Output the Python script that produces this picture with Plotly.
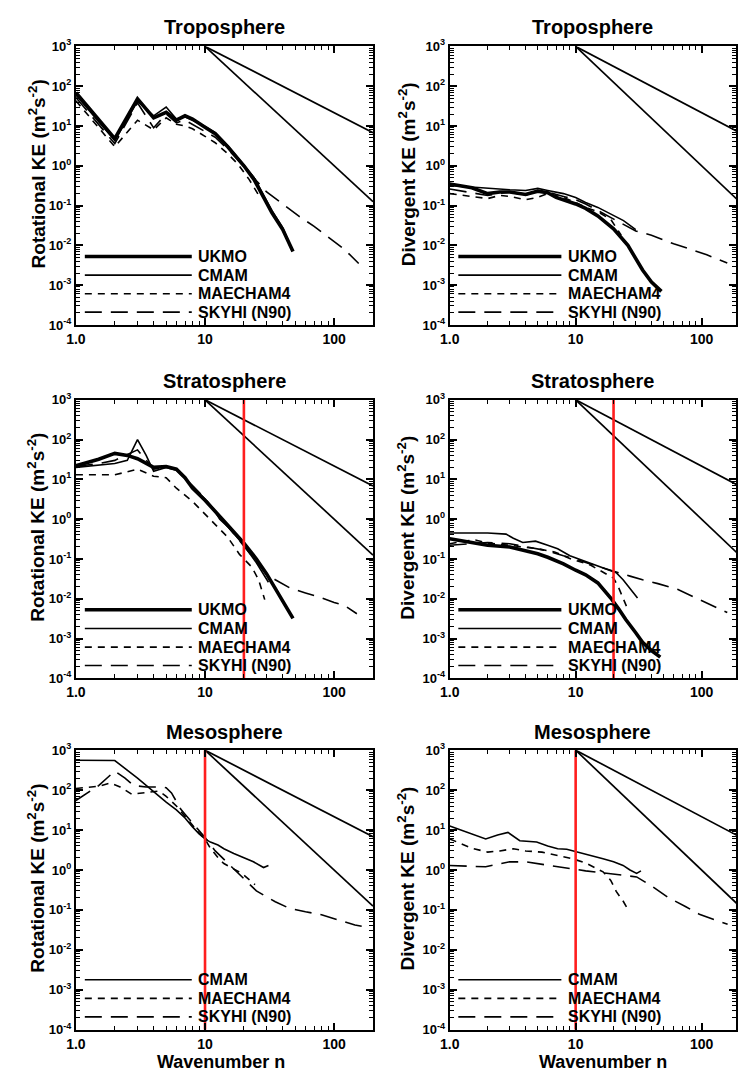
import plotly.graph_objects as go
import math

# ---------------- DATA ----------------
# Troposphere, rotational KE
tr_rot_ukmo_n = [1, 2, 3, 4, 5, 6, 7, 8, 10, 12, 15, 20, 24, 28, 33, 40, 48]
tr_rot_ukmo = [69, 4.8, 48, 16, 22, 14, 18, 15, 9.3, 6.4, 3.0, 1.0, 0.45, 0.18, 0.066, 0.025, 0.007]
tr_rot_cmam_n = [1, 2, 3, 4, 5, 6, 7, 8, 10, 12, 15, 20, 24, 28, 33, 40, 47]
tr_rot_cmam = [60, 4.3, 42, 18, 30, 15, 17, 14, 9.8, 6.8, 3.2, 1.05, 0.5, 0.2, 0.075, 0.028, 0.008]
tr_rot_mae_n = [1, 2, 3, 4, 5, 6, 7, 8, 10, 12, 15, 18, 22, 27]
tr_rot_mae = [43, 3.0, 14, 8, 16, 11, 10, 8.5, 5.5, 3.8, 2.0, 1.1, 0.45, 0.15]
tr_rot_sky_n = [1, 2, 3, 4, 5, 6, 7, 8, 10, 12, 15, 20, 25, 30, 40, 53, 70, 90, 120, 155]
tr_rot_sky = [52, 3.6, 38, 9, 20, 12, 14, 11, 7.5, 5.2, 2.6, 1.0, 0.42, 0.22, 0.11, 0.055, 0.03, 0.016, 0.008, 0.0035]

# Troposphere, divergent KE
tr_div_ukmo_n = [1, 1.5, 2, 2.5, 3, 4, 5, 6, 7, 8, 10, 12, 15, 20, 26, 34, 40, 48]
tr_div_ukmo = [0.35, 0.28, 0.2, 0.22, 0.22, 0.19, 0.23, 0.21, 0.16, 0.14, 0.11, 0.085, 0.055, 0.026, 0.01, 0.0024, 0.0012, 0.0007]
tr_div_cmam_n = [1, 2, 3, 4, 5, 6, 8, 10, 12, 15, 20, 24, 30]
tr_div_cmam = [0.32, 0.27, 0.25, 0.24, 0.27, 0.24, 0.2, 0.16, 0.12, 0.09, 0.055, 0.042, 0.025]
tr_div_mae_n = [1, 1.5, 2, 2.5, 3, 4, 5, 6, 8, 10, 12, 15, 19, 23]
tr_div_mae = [0.2, 0.17, 0.15, 0.18, 0.17, 0.14, 0.16, 0.2, 0.16, 0.12, 0.09, 0.07, 0.045, 0.018]
tr_div_sky_n = [1, 2, 3, 4, 5, 6, 8, 10, 12, 15, 20, 25, 30, 40, 60, 80, 110, 160]
tr_div_sky = [0.26, 0.18, 0.22, 0.18, 0.24, 0.22, 0.17, 0.14, 0.11, 0.075, 0.045, 0.03, 0.023, 0.018, 0.011, 0.0082, 0.0058, 0.0036]

# Stratosphere, rotational KE
st_rot_ukmo_n = [1, 1.5, 2, 2.5, 3, 4, 5, 6, 7, 8, 10, 12, 15, 20, 25, 30, 38, 48]
st_rot_ukmo = [22, 32, 45, 40, 33, 20, 21, 18, 11, 6, 3, 1.6, 0.7, 0.25, 0.1, 0.042, 0.011, 0.0032]
st_rot_cmam_n = [1, 2, 2.5, 3, 3.5, 4, 5, 6, 8, 10, 12, 13, 15, 20, 25, 31]
st_rot_cmam = [20, 25, 30, 100, 40, 16, 20, 18, 6.5, 3.2, 1.5, 1.0, 0.65, 0.22, 0.08, 0.026]
st_rot_mae_n = [1, 1.5, 2, 3, 4, 5, 6, 8, 9, 10, 12, 15, 18.5, 23, 26, 29]
st_rot_mae = [13, 13, 13, 18, 12, 11, 6, 2.8, 1.9, 1.4, 0.75, 0.35, 0.13, 0.063, 0.03, 0.0095]
st_rot_sky_n = [1, 1.5, 2, 3, 4, 5, 6, 8, 10, 12, 15, 20, 25, 30, 35, 45, 60, 80, 100, 120, 150]
st_rot_sky = [21, 25, 30, 55, 18, 20, 17, 7, 3.3, 1.6, 0.62, 0.2, 0.085, 0.042, 0.03, 0.019, 0.014, 0.0105, 0.008, 0.0068, 0.0042]

# Stratosphere, divergent KE
st_div_ukmo_n = [1, 2, 3, 4, 5, 6, 8, 10, 12, 15, 19, 22, 25, 30, 34, 40, 47]
st_div_ukmo = [0.32, 0.22, 0.2, 0.16, 0.135, 0.11, 0.075, 0.052, 0.04, 0.025, 0.0104, 0.0055, 0.003, 0.0014, 0.0008, 0.0005, 0.00034]
st_div_cmam_n = [1, 2, 2.8, 3.2, 3.8, 4.8, 6, 7.2, 9, 12.4, 15, 18.8, 21, 23.8, 27, 31]
st_div_cmam = [0.45, 0.45, 0.42, 0.33, 0.26, 0.28, 0.22, 0.18, 0.12, 0.083, 0.065, 0.052, 0.045, 0.03, 0.018, 0.0104]
st_div_mae_n = [1, 1.3, 1.6, 2, 3, 4, 5, 6.8, 9.2, 13.1, 18.2, 20, 21.8, 23.5, 25.3]
st_div_mae = [0.24, 0.28, 0.3, 0.25, 0.22, 0.2, 0.18, 0.15, 0.1, 0.07, 0.04, 0.033, 0.02, 0.011, 0.0065]
st_div_sky_n = [1, 1.5, 2, 3, 4, 5, 6, 8, 10, 12.7, 15, 18.8, 22, 27, 34, 45, 65, 100, 141, 160]
st_div_sky = [0.22, 0.24, 0.26, 0.24, 0.2, 0.18, 0.16, 0.12, 0.1, 0.077, 0.065, 0.052, 0.045, 0.037, 0.03, 0.024, 0.017, 0.009, 0.0054, 0.0045]

# Mesosphere, rotational KE
me_rot_cmam_n = [1, 2, 3, 4, 5, 6, 7, 8, 9, 10, 11, 12.6, 14, 16.7, 20, 23.7, 28.4, 31]
me_rot_cmam = [560, 550, 200, 90, 50, 32, 20, 12, 8, 6, 5, 4.2, 3.4, 2.6, 2.0, 1.6, 1.15, 1.3]
me_rot_mae_n = [1, 1.5, 1.84, 2.2, 2.7, 3.5, 4.4, 5, 6, 7, 8, 9, 10, 11, 13, 14, 19.4, 24.4]
me_rot_mae = [110, 125, 150, 120, 79, 86, 95, 70, 40, 22, 13, 8.5, 6, 3.5, 1.8, 1.45, 0.81, 0.43]
me_rot_sky_n = [1, 1.5, 2, 2.4, 2.8, 3.5, 4.5, 5, 5.5, 6.5, 7, 8, 10, 12, 15, 20, 25, 35, 45, 60, 81, 110, 145, 170]
me_rot_sky = [55, 130, 300, 200, 130, 120, 120, 115, 85, 33, 25, 15, 6.5, 3, 1.5, 0.6, 0.3, 0.16, 0.11, 0.09, 0.075, 0.055, 0.042, 0.038]

# Mesosphere, divergent KE
me_div_cmam_n = [1, 1.5, 1.93, 2.4, 2.9, 3.6, 4.9, 6, 7.2, 8.5, 10.5, 13, 16.5, 20, 23.8, 27, 30.5, 33]
me_div_cmam = [12.6, 8, 6, 7.5, 8.7, 5.4, 5, 4, 3.4, 3.3, 2.8, 2.3, 1.9, 1.6, 1.3, 1.0, 0.82, 0.95]
me_div_mae_n = [1, 1.5, 2, 2.5, 3.2, 4, 5.4, 7, 9.5, 12, 16.5, 19, 21, 24, 26.5]
me_div_mae = [6, 3.5, 2.8, 3.0, 3.4, 3.0, 2.8, 2.3, 1.9, 1.5, 0.9, 0.55, 0.29, 0.16, 0.093]
me_div_sky_n = [1, 1.5, 1.93, 2.4, 3, 4, 4.9, 6, 8.9, 12, 16.5, 22, 30.5, 40, 55, 75, 96, 130, 161]
me_div_sky = [1.3, 1.25, 1.2, 1.4, 1.6, 1.6, 1.45, 1.3, 1.1, 0.95, 0.85, 0.75, 0.67, 0.4, 0.2, 0.12, 0.078, 0.055, 0.044]

# Reference slopes (n^-5/3 and n^-3) starting at n=10
ref_n = [10, 200]
ref_53 = [1000, 6.8]
ref_3 = [1000, 0.125]

# Truncation markers (red vertical lines)
red_line_n = [None, 20, 10]  # per row
y_limits = [1e-4, 1e3]

row_titles = ["Troposphere", "Stratosphere", "Mesosphere"]
col_ylabels = ["Rotational KE (m<sup>2</sup>s<sup>-2</sup>)", "Divergent KE (m<sup>2</sup>s<sup>-2</sup>)"]
y_tick_vals = [1e-4, 1e-3, 1e-2, 1e-1, 1e0, 1e1, 1e2, 1e3]
y_tick_text = ["10<sup>-4</sup>", "10<sup>-3</sup>", "10<sup>-2</sup>", "10<sup>-1</sup>",
               "10<sup>0</sup>", "10<sup>1</sup>", "10<sup>2</sup>", "10<sup>3</sup>"]
x_tick_vals = [1, 10, 100]
x_tick_text = ["1.0", "10", "100"]
x_title = "Wavenumber n"

names = ["UKMO", "CMAM", "MAECHAM4", "SKYHI (N90)"]
panels = [
    [  # row 1
        [(tr_rot_ukmo_n, tr_rot_ukmo), (tr_rot_cmam_n, tr_rot_cmam), (tr_rot_mae_n, tr_rot_mae), (tr_rot_sky_n, tr_rot_sky)],
        [(tr_div_ukmo_n, tr_div_ukmo), (tr_div_cmam_n, tr_div_cmam), (tr_div_mae_n, tr_div_mae), (tr_div_sky_n, tr_div_sky)],
    ],
    [
        [(st_rot_ukmo_n, st_rot_ukmo), (st_rot_cmam_n, st_rot_cmam), (st_rot_mae_n, st_rot_mae), (st_rot_sky_n, st_rot_sky)],
        [(st_div_ukmo_n, st_div_ukmo), (st_div_cmam_n, st_div_cmam), (st_div_mae_n, st_div_mae), (st_div_sky_n, st_div_sky)],
    ],
    [
        [None, (me_rot_cmam_n, me_rot_cmam), (me_rot_mae_n, me_rot_mae), (me_rot_sky_n, me_rot_sky)],
        [None, (me_div_cmam_n, me_div_cmam), (me_div_mae_n, me_div_mae), (me_div_sky_n, me_div_sky)],
    ],
]

# ---------------- STYLE / LAYOUT ----------------
W, H = 738, 1083
FONT = "Liberation Sans"
col_px = [(67, 369), (447, 738)]
col_decade = [None, 128.0]
row_px = [(38, 321), (397, 680), (753, 1037)]
title_y_px = [18, 378, 735]

styles = [
    dict(width=3.6, dash="solid"),
    dict(width=1.6, dash="solid"),
    dict(width=1.6, dash="7px,6px"),
    dict(width=1.6, dash="17px,9px"),
]

minor_x = [k * 10 ** e for e in range(0, 3) for k in range(2, 10) if k * 10 ** e <= 200]
minor_y = [k * 10.0 ** e for e in range(-4, 3) for k in range(2, 10)]

fig = go.Figure()
layout = dict(width=W, height=H, margin=dict(l=0, r=0, t=0, b=0),
              paper_bgcolor="white", plot_bgcolor="white", showlegend=False,
              font=dict(family=FONT, color="black"))
annotations = []
shapes = []

idx = 0
for r in range(3):
    for c in range(2):
        idx += 1
        xa = "x" if idx == 1 else f"x{idx}"
        ya = "y" if idx == 1 else f"y{idx}"
        xkey = "xaxis" if idx == 1 else f"xaxis{idx}"
        ykey = "yaxis" if idx == 1 else f"yaxis{idx}"
        x0p, x1p = col_px[c]
        y0p, y1p = row_px[r]
        if c == 0:
            xr = [0, math.log10(200)]
        else:
            xr = [0, (x1p - x0p) / col_decade[1]]
        layout[xkey] = dict(
            domain=[x0p / W, x1p / W], anchor=ya, type="log", range=xr,
            showline=True, linecolor="black", linewidth=2, mirror="ticks",
            ticks="inside", ticklen=7, tickwidth=1.5, tickcolor="black",
            tickmode="array", tickvals=x_tick_vals, ticktext=x_tick_text,
            tickfont=dict(family=FONT, size=14, weight="bold"),
            minor=dict(ticks="inside", ticklen=4, tickwidth=1, tickcolor="black",
                       tickmode="array", tickvals=minor_x, showgrid=False),
            showgrid=False, zeroline=False,
        )
        layout[ykey] = dict(
            domain=[1 - y1p / H, 1 - y0p / H], anchor=xa, type="log", range=[-4, 3],
            showline=True, linecolor="black", linewidth=2, mirror="ticks",
            ticks="inside", ticklen=7, tickwidth=1.5, tickcolor="black",
            tickmode="array", tickvals=y_tick_vals, ticktext=y_tick_text,
            tickfont=dict(family=FONT, size=13, weight="bold"),
            minor=dict(ticks="inside", ticklen=4, tickwidth=1, tickcolor="black",
                       tickmode="array", tickvals=minor_y, showgrid=False),
            showgrid=False, zeroline=False,
        )
        # reference slope lines
        for ref in (ref_53, ref_3):
            fig.add_trace(go.Scatter(x=ref_n, y=ref, mode="lines", xaxis=xa, yaxis=ya,
                                     line=dict(color="black", width=1.7), hoverinfo="skip"))
        # model curves
        for s, series in enumerate(panels[r][c]):
            if series is None:
                continue
            fig.add_trace(go.Scatter(x=series[0], y=series[1], mode="lines", xaxis=xa, yaxis=ya,
                                     name=names[s],
                                     line=dict(color="black", width=styles[s]["width"], dash=styles[s]["dash"])))
        # legend (drawn inside the plot, lower left)
        present = [s for s in range(4) if panels[r][c][s] is not None]
        legend_y = [0.246, 0.179, 0.112, 0.046][-len(present):]
        for k, s in enumerate(present):
            shapes.append(dict(type="line", xref=f"{xa} domain", yref=f"{ya} domain",
                               x0=0.03, x1=0.39, y0=legend_y[k], y1=legend_y[k],
                               line=dict(color="black", width=styles[s]["width"], dash=styles[s]["dash"])))
            annotations.append(dict(xref=f"{xa} domain", yref=f"{ya} domain",
                                    x=0.405, y=legend_y[k], xanchor="left", yanchor="middle",
                                    text=names[s], showarrow=False,
                                    font=dict(family=FONT, size=16, weight="bold", color="black")))
        # red truncation line
        if red_line_n[r] is not None:
            fig.add_trace(go.Scatter(x=[red_line_n[r], red_line_n[r]], y=y_limits, mode="lines",
                                     xaxis=xa, yaxis=ya, line=dict(color="#ff1e1e", width=2.6),
                                     hoverinfo="skip"))
        # panel title
        annotations.append(dict(xref="paper", yref="paper", x=((x0p + x1p) / 2) / W,
                                y=1 - title_y_px[r] / H, xanchor="center", yanchor="middle",
                                text=row_titles[r], showarrow=False,
                                font=dict(family=FONT, size=20, weight="bold")))
        # y-axis title
        annotations.append(dict(xref="paper", yref="paper", x=(27 if c == 0 else 403) / W,
                                y=1 - ((y0p + y1p) / 2 - 12) / H, xanchor="center", yanchor="middle",
                                text=col_ylabels[c], textangle=-90, showarrow=False,
                                font=dict(family=FONT, size=19, weight="bold")))
        if r == 2:
            annotations.append(dict(xref="paper", yref="paper",
                                    x=(214 if c == 0 else 603) / W, y=1 - 1070 / H,
                                    xanchor="center", yanchor="middle", text=x_title,
                                    showarrow=False, font=dict(family=FONT, size=18, weight="bold")))

layout["annotations"] = annotations
layout["shapes"] = shapes
fig.update_layout(**layout)
fig.write_html("out.html")
